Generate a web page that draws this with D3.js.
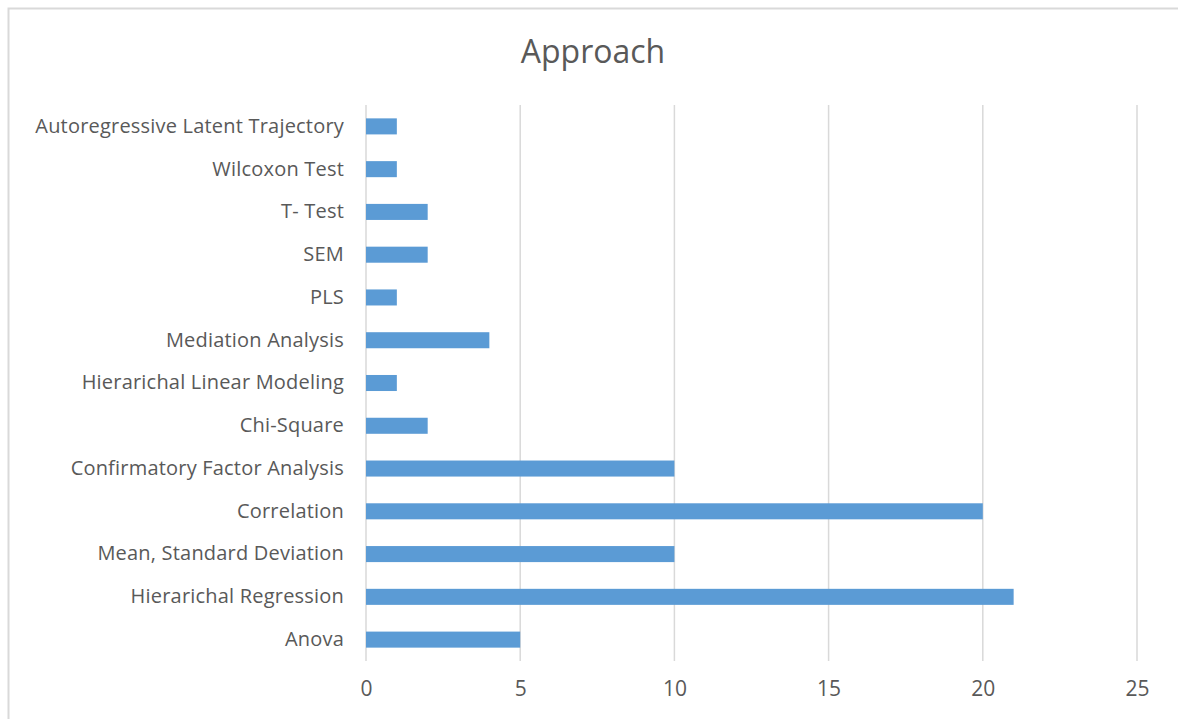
<!DOCTYPE html>
<html>
<head>
<meta charset="utf-8">
<script src="https://cdn.jsdelivr.net/npm/d3@7"></script>
<style>
  body { margin: 0; background: #fff; }
  svg { display: block; }
  .tick text { fill: #595959; }
</style>
</head>
<body>
<div id="chart"></div>
<script>
// categories listed bottom to top
const categories = [
  'Anova',
  'Hierarichal Regression',
  'Mean, Standard Deviation',
  'Correlation',
  'Confirmatory Factor Analysis',
  'Chi-Square',
  'Hierarichal Linear Modeling',
  'Mediation Analysis',
  'PLS',
  'SEM',
  'T- Test',
  'Wilcoxon Test',
  'Autoregressive Latent Trajectory'
];
const counts = [5, 21, 10, 20, 10, 2, 1, 4, 1, 2, 2, 1, 1];
const xTicks = [0, 5, 10, 15, 20, 25];
const title = 'Approach';

const W = 1178, H = 719;
const margin = { top: 105, left: 366, right: 41, bottom: 58 };
const width = W - margin.left - margin.right,
  height = H - margin.top - margin.bottom;
const font = '"Open Sans", "Liberation Sans", sans-serif';

let svg = d3.select('#chart')
  .append('svg')
    .attr('width', W)
    .attr('height', H);

// chart border (only top and left show inside the frame)
svg.append('rect')
    .attr('x', 8.5)
    .attr('y', 8.5)
    .attr('width', W + 10)
    .attr('height', H + 10)
    .attr('fill', 'none')
    .attr('stroke', '#d9d9d9')
    .attr('stroke-width', 2);

svg.append('text')
    .attr('x', 593)
    .attr('y', 63)
    .attr('text-anchor', 'middle')
    .attr('font-family', font)
    .attr('font-size', 32)
    .attr('fill', '#595959')
    .text(title);

let g = svg.append('g')
    .attr('transform', 'translate(' + margin.left + ',' + margin.top + ')');

let xScale = d3.scaleLinear()
    .domain([0, 25])
    .range([0, width]);

let yScale = d3.scaleBand()
    .domain(categories.slice().reverse())
    .range([0, height])
    .paddingInner(0.625)
    .paddingOuter(0.3125);

// vertical gridlines
g.append('g')
  .selectAll('line')
    .data(xTicks)
  .join('line')
    .attr('x1', d => xScale(d))
    .attr('x2', d => xScale(d))
    .attr('y1', 0)
    .attr('y2', height)
    .attr('stroke', '#d9d9d9')
    .attr('stroke-width', 1.5);

// x axis labels
let xAxis = g.append('g')
    .attr('transform', 'translate(0,' + height + ')')
    .call(d3.axisBottom(xScale).tickValues(xTicks).tickSize(0).tickPadding(20));
xAxis.select('.domain').remove();
xAxis.selectAll('text')
    .attr('font-family', font)
    .attr('font-size', 21);

// y axis labels
let yAxis = g.append('g')
    .call(d3.axisLeft(yScale).tickSize(0).tickPadding(22));
yAxis.select('.domain').remove();
yAxis.selectAll('text')
    .attr('font-family', font)
    .attr('font-size', 20)
    .attr('letter-spacing', 0.2);

// bars
g.append('g')
  .selectAll('rect')
    .data(categories)
  .join('rect')
    .attr('x', 0)
    .attr('y', d => yScale(d))
    .attr('width', (d, i) => xScale(counts[i]))
    .attr('height', yScale.bandwidth())
    .attr('fill', '#5b9bd5');
</script>
</body>
</html>
